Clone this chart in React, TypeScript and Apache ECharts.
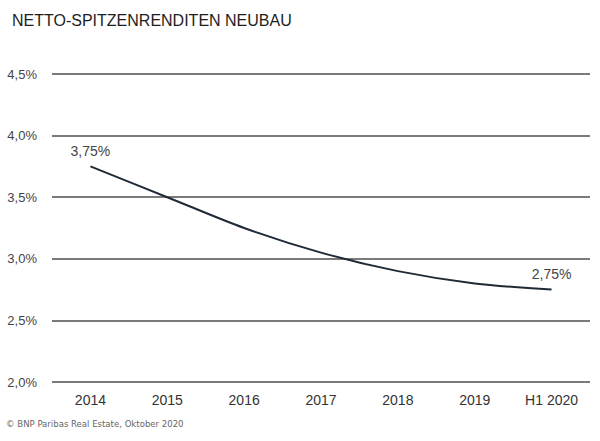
import { useEffect, useRef } from "react";
import * as echarts from "echarts";

const categories = ["2014", "2015", "2016", "2017", "2018", "2019", "H1 2020"];
const yields = [3.75, 3.5, 3.25, 3.05, 2.9, 2.8, 2.75];
const labelledPoints = [0, 6];

const fmt = (v: number, digits: number): string => `${v.toFixed(digits).replace(".", ",")}%`;

export default function App(): JSX.Element {
  const ref = useRef<HTMLDivElement | null>(null);

  useEffect(() => {
    document.body.style.margin = "0";
    const el = ref.current;
    if (!el) return;
    const chart = echarts.init(el, undefined, { renderer: "svg" });
    chart.setOption({
      animation: false,
      backgroundColor: "#ffffff",
      textStyle: { fontFamily: "Liberation Sans, Arial, sans-serif" },
      title: {
        text: "NETTO-SPITZENRENDITEN NEUBAU",
        left: 7,
        top: 7,
        textStyle: { fontSize: 16, fontWeight: "normal", color: "#1e1e1e" },
      },
      grid: { left: 52, right: 10, top: 74, bottom: 59 },
      xAxis: {
        type: "category",
        data: categories,
        boundaryGap: true,
        axisLine: { show: false },
        axisTick: { show: false },
        axisLabel: { color: "#333333", fontSize: 14, margin: 11 },
      },
      yAxis: {
        type: "value",
        min: 2,
        max: 4.5,
        interval: 0.5,
        axisLine: { show: false },
        axisTick: { show: false },
        axisLabel: { color: "#444444", fontSize: 13, margin: 15, formatter: (v: number) => fmt(v, 1) },
        splitLine: { lineStyle: { color: "#7a7a7a", width: 2 } },
      },
      series: [
        {
          type: "line",
          smooth: 0.3,
          symbol: "circle",
          symbolSize: 1,
          showSymbol: true,
          itemStyle: { color: "rgba(0,0,0,0)" },
          lineStyle: { color: "#1f2a36", width: 2 },
          data: yields.map((v, i) => ({
            value: v,
            label: {
              show: labelledPoints.includes(i),
              position: "top",
              distance: 8,
              color: "#444444",
              fontSize: 14,
              formatter: () => fmt(v, 2),
            },
          })),
        },
      ],
      graphic: [
        {
          type: "text",
          left: 6,
          top: 418,
          style: {
            text: "© BNP Paribas Real Estate, Oktober 2020",
            fontSize: 9.5,
            fill: "#666666",
            fontFamily: "DejaVu Sans Condensed, sans-serif",
          },
        },
      ],
    });
    return () => chart.dispose();
  }, []);

  return <div ref={ref} style={{ width: 600, height: 441 }} />;
}
